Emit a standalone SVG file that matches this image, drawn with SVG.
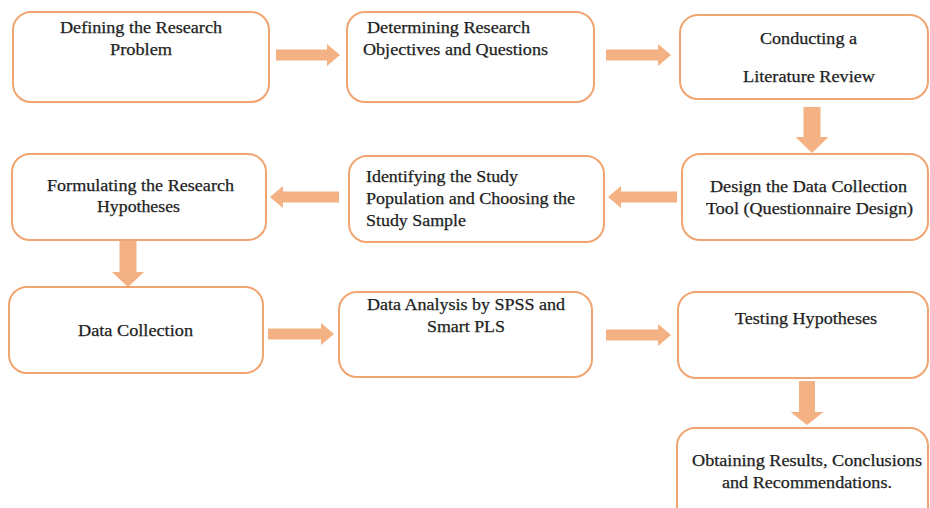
<svg xmlns="http://www.w3.org/2000/svg" width="930" height="508" viewBox="0 0 930 508">
<style>
.box{fill:#fff;stroke:#F2A470;stroke-width:2}
.arr{fill:#F4B183}
.t{font-family:"Liberation Serif","Times New Roman","DejaVu Serif",serif;font-size:16px;fill:#1e1e1e;stroke:#1e1e1e;stroke-width:0.25}
</style>
<rect width="930" height="508" fill="#fff"/>
<g id="connectors">
<path class="arr" d="M276,49.5 H327 V44 L340,55 L327,66 V60.5 H276 Z"/>
<path class="arr" d="M606,49.5 H658 V44 L671,55 L658,66 V60.5 H606 Z"/>
<path class="arr" d="M803.5,107 H820.5 V137 H828.5 L812,153 L795.5,137 H803.5 Z"/>
<path class="arr" d="M677,191.5 H621 V186 L608,197 L621,208 V202.5 H677 Z"/>
<path class="arr" d="M339,191.5 H283 V186 L270,197 L283,208 V202.5 H339 Z"/>
<path class="arr" d="M119.5,240 H136.5 V272 H144 L128,287 L112,272 H119.5 Z"/>
<path class="arr" d="M268,328.5 H321 V323 L334,334 L321,345 V339.5 H268 Z"/>
<path class="arr" d="M606,329.5 H658 V324 L671,335 L658,346 V340.5 H606 Z"/>
<path class="arr" d="M799,381 H815 V412 H823.5 L807,425 L790.5,412 H799 Z"/>
</g>
<g id="n1"><rect class="box" x="13" y="12" width="256" height="90" rx="18"/>
<text class="t" x="60" y="33" textLength="162" lengthAdjust="spacingAndGlyphs">Defining the Research</text>
<text class="t" x="110" y="55" textLength="62" lengthAdjust="spacingAndGlyphs">Problem</text></g>
<g id="n2"><rect class="box" x="347" y="12" width="247" height="90" rx="18"/>
<text class="t" x="367" y="33" textLength="163" lengthAdjust="spacingAndGlyphs">Determining Research</text>
<text class="t" x="363" y="55" textLength="185" lengthAdjust="spacingAndGlyphs">Objectives and Questions</text></g>
<g id="n3"><rect class="box" x="680" y="15" width="248" height="84" rx="18"/>
<text class="t" x="760" y="44" textLength="97" lengthAdjust="spacingAndGlyphs">Conducting a</text>
<text class="t" x="743" y="82" textLength="132" lengthAdjust="spacingAndGlyphs">Literature Review</text></g>
<g id="n4"><rect class="box" x="12" y="154" width="254" height="86" rx="18"/>
<text class="t" x="47" y="191" textLength="187" lengthAdjust="spacingAndGlyphs">Formulating the Research</text>
<text class="t" x="97" y="212" textLength="83" lengthAdjust="spacingAndGlyphs">Hypotheses</text></g>
<g id="n5"><rect class="box" x="349" y="156" width="255" height="86" rx="18"/>
<text class="t" x="366" y="182" textLength="152" lengthAdjust="spacingAndGlyphs">Identifying the Study</text>
<text class="t" x="366" y="204" textLength="209" lengthAdjust="spacingAndGlyphs">Population and Choosing the</text>
<text class="t" x="366" y="226" textLength="100" lengthAdjust="spacingAndGlyphs">Study Sample</text></g>
<g id="n6"><rect class="box" x="682" y="154" width="246" height="86" rx="18"/>
<text class="t" x="710" y="192" textLength="197" lengthAdjust="spacingAndGlyphs">Design the Data Collection</text>
<text class="t" x="706" y="214" textLength="207" lengthAdjust="spacingAndGlyphs">Tool (Questionnaire Design)</text></g>
<g id="n7"><rect class="box" x="9" y="287" width="254" height="86" rx="18"/>
<text class="t" x="78" y="336" textLength="115" lengthAdjust="spacingAndGlyphs">Data Collection</text></g>
<g id="n8"><rect class="box" x="339" y="292" width="253" height="85" rx="18"/>
<text class="t" x="367" y="310" textLength="198" lengthAdjust="spacingAndGlyphs">Data Analysis by SPSS and</text>
<text class="t" x="427" y="332" textLength="78" lengthAdjust="spacingAndGlyphs">Smart PLS</text></g>
<g id="n9"><rect class="box" x="678" y="292" width="250" height="86" rx="18"/>
<text class="t" x="735" y="324" textLength="142" lengthAdjust="spacingAndGlyphs">Testing Hypotheses</text></g>
<g id="n10"><rect class="box" x="677" y="428" width="251" height="100" rx="18"/>
<text class="t" x="692" y="466" textLength="230" lengthAdjust="spacingAndGlyphs">Obtaining Results, Conclusions</text>
<text class="t" x="722" y="488" textLength="170" lengthAdjust="spacingAndGlyphs">and Recommendations.</text></g>
</svg>
